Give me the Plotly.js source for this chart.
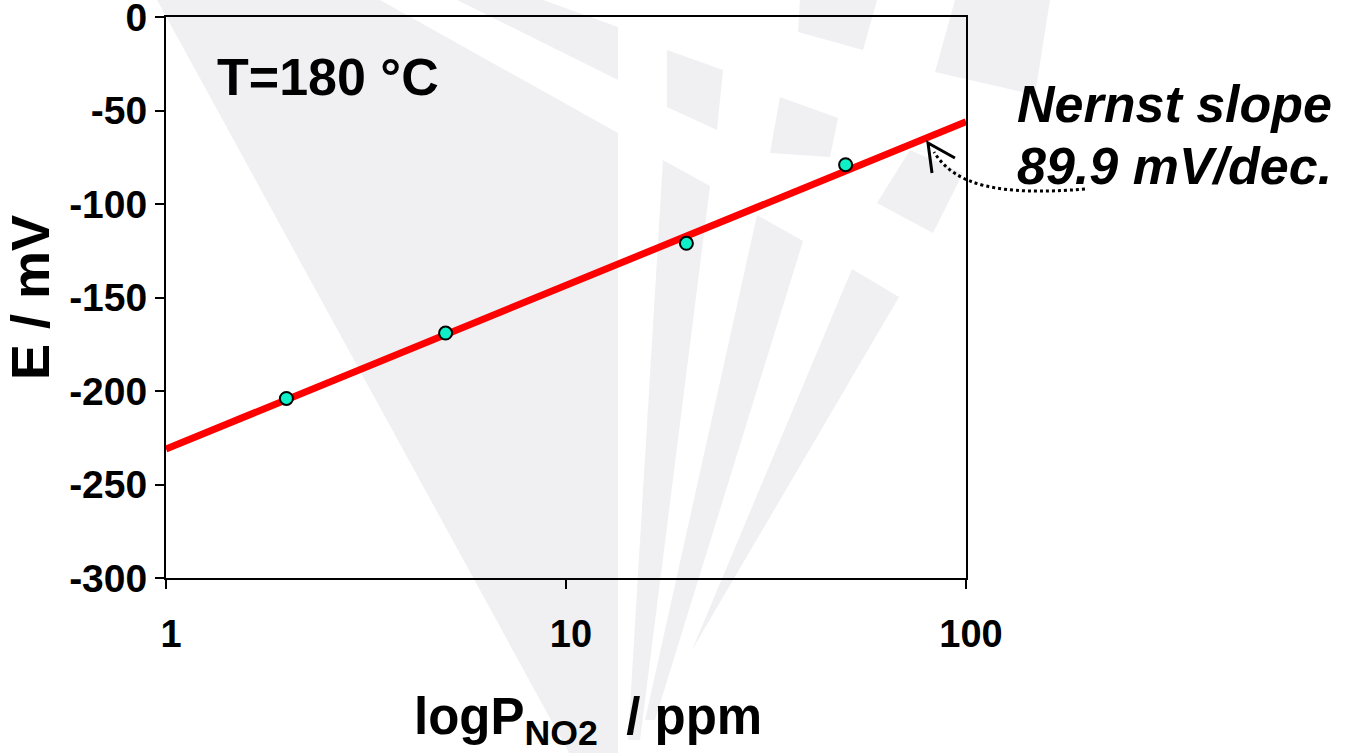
<!DOCTYPE html>
<html>
<head>
<meta charset="utf-8">
<script src="https://cdn.plot.ly/plotly-3.0.1.min.js"></script>
<style>html,body{margin:0;padding:0;background:#fff;}#chart{width:1346px;height:753px;}</style>
</head>
<body>
<div id="chart"></div>
<script>
// ---- data ----
const pressurePpm = [2, 5, 20, 50];
const potentialMv = [-204, -169, -121, -79];
const fitX = [1, 100];
const fitY = [-231, -56];
const xTickVals = [1, 10, 100];
const xTickText = ['1', '10', '100'];
const yTickVals = [0, -50, -100, -150, -200, -250, -300];
const yTickText = ['0', '-50', '-100', '-150', '-200', '-250', '-300'];
const xTitle = 'logP<sub>NO2</sub>&nbsp; / ppm';
const yTitle = 'E / mV';
const tempLabel = 'T=180 °C';
const slopeLine1 = 'Nernst slope';
const slopeLine2 = '89.9 mV/dec.';

// ---- geometry helpers (layout only) ----
const W = 1346, H = 753;
const M = {l: 166, r: 380, t: 17, b: 175};
const PW = W - M.l - M.r, PH = H - M.t - M.b;
const px = x => (x - M.l) / PW;
const py = y => (M.t + PH - y) / PH;
function poly(pts) {
  return pts.map((p, i) => (i ? 'L' : 'M') + px(p[0]).toFixed(4) + ',' + py(p[1]).toFixed(4)).join(' ') + ' Z';
}
const WM = '#f0f0f3';
const watermark = [
  [[157,0],[380,0],[618,133],[618,753],[569,753]],
  [[457,0],[543,0],[618,27],[618,80]],
  [[663,160],[710,186],[640,740],[628,740]],
  [[757,215],[803,241],[655,720],[645,720]],
  [[852,269],[899,297],[692,650]],
  [[667,50],[723,70],[717,130],[667,107]],
  [[780,97],[838,118],[830,157],[770,153]],
  [[800,0],[877,0],[863,50],[798,32]],
  [[955,0],[1050,0],[1035,95],[935,72]],
  [[910,150],[963,173],[933,233],[877,203]]
];
const shapes = watermark.map(p => ({
  type: 'path', xref: 'paper', yref: 'paper', layer: 'below',
  path: poly(p), fillcolor: WM, line: {width: 0}
}));
// dotted curved pointer + open arrow head
const c = (x, y) => px(x).toFixed(4) + ',' + py(y).toFixed(4);
shapes.push({
  type: 'path', xref: 'paper', yref: 'paper', layer: 'above',
  path: 'M' + c(1085, 189) + ' C' + c(1000, 196) + ' ' + c(955, 186) + ' ' + c(934, 152),
  line: {color: '#000', width: 3, dash: 'dot'}
});
shapes.push({
  type: 'path', xref: 'paper', yref: 'paper', layer: 'above',
  path: 'M' + c(932, 173) + ' L' + c(928, 143) + ' L' + c(955, 158),
  line: {color: '#000', width: 3}
});

const FONT = 'Liberation Sans, Arial, sans-serif';

const traces = [
  {
    x: fitX, y: fitY, type: 'scatter', mode: 'lines',
    line: {color: '#ff0000', width: 7}, hoverinfo: 'skip', showlegend: false
  },
  {
    x: pressurePpm, y: potentialMv, type: 'scatter', mode: 'markers',
    marker: {size: 13, color: '#10f0c8', line: {color: '#000', width: 2}},
    showlegend: false
  }
];

const layout = {
  width: W, height: H,
  margin: M,
  paper_bgcolor: '#ffffff',
  plot_bgcolor: 'rgba(0,0,0,0)',
  font: {family: FONT, color: '#000'},
  showlegend: false,
  xaxis: {
    type: 'log', range: [0, 2],
    tickvals: xTickVals, ticktext: xTickText,
    ticks: 'outside', ticklen: 9, tickwidth: 2, tickcolor: '#000',
    showline: true, linewidth: 2, linecolor: '#000', mirror: true,
    showgrid: false, zeroline: false,
    tickfont: {family: FONT, size: 38, weight: 'bold'},
    ticklabelstandoff: 12,
    ticklabelshift: 5,
    ticklabeloverflow: 'allow'
  },
  yaxis: {
    range: [-300, 0],
    tickvals: yTickVals, ticktext: yTickText,
    ticks: 'outside', ticklen: 9, tickwidth: 2, tickcolor: '#000',
    showline: true, linewidth: 2, linecolor: '#000', mirror: true,
    showgrid: false, zeroline: false,
    tickfont: {family: FONT, size: 39, weight: 'bold'},
    ticklabeloverflow: 'allow',
    title: {text: yTitle, font: {family: FONT, size: 54, weight: 'bold'}, standoff: 10}
  },
  shapes: shapes,
  annotations: [
    {text: xTitle, xref: 'paper', yref: 'paper', x: px(588), y: py(720),
     xanchor: 'center', yanchor: 'middle', showarrow: false,
     font: {family: FONT, size: 51, weight: 'bold'}},
    {text: tempLabel, xref: 'paper', yref: 'paper', x: px(215), y: py(77),
     xanchor: 'left', yanchor: 'middle', showarrow: false,
     font: {family: FONT, size: 52, weight: 'bold'}},
    {text: '<i>' + slopeLine1 + '</i>', xref: 'paper', yref: 'paper', x: px(1015), y: py(104),
     xanchor: 'left', yanchor: 'middle', showarrow: false,
     font: {family: FONT, size: 52, weight: 'bold'}},
    {text: '<i>' + slopeLine2 + '</i>', xref: 'paper', yref: 'paper', x: px(1015), y: py(166),
     xanchor: 'left', yanchor: 'middle', showarrow: false,
     font: {family: FONT, size: 52, weight: 'bold'}}
  ]
};

Plotly.newPlot('chart', traces, layout, {displayModeBar: false, staticPlot: true});
</script>
</body>
</html>
